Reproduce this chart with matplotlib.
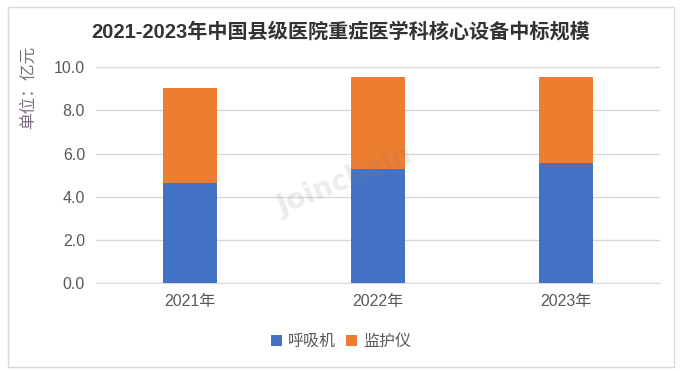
import matplotlib.pyplot as plt
from matplotlib.patches import Rectangle

plt.rcParams['font.family'] = ['Liberation Sans', 'Noto Sans CJK SC', 'DejaVu Sans']

years = ['2021年', '2022年', '2023年']
huxiji = [4.65, 5.28, 5.56]      # 呼吸机
jianhuyi = [4.39, 4.27, 3.99]    # 监护仪
blue = '#4472c4'
orange = '#ed7d31'

fig = plt.figure(figsize=(6.82, 3.71), dpi=100)
fig.patches.append(Rectangle((0.011, 0.011), 0.978, 0.97, transform=fig.transFigure,
                             fill=False, edgecolor='#d9d9d9', linewidth=1))

ax = fig.add_axes([0.141, 0.237, 0.827, 0.582])
x = range(len(years))
ax.bar(x, huxiji, width=0.29, color=blue, label='呼吸机', zorder=3)
ax.bar(x, jianhuyi, width=0.29, bottom=huxiji, color=orange, label='监护仪', zorder=3)

ax.set_xlim(-0.5, 2.5)
ax.set_ylim(0, 10)
ax.set_yticks([0, 2, 4, 6, 8, 10])
ax.set_yticklabels([f'{v:.1f}' for v in [0, 2, 4, 6, 8, 10]])
ax.set_xticks(list(x))
ax.set_xticklabels(years)
ax.grid(axis='y', color='#d9d9d9', linewidth=1, zorder=0)
for s in ['top', 'right', 'left']:
    ax.spines[s].set_visible(False)
ax.spines['bottom'].set_color('#d9d9d9')
ax.tick_params(axis='both', length=0, labelsize=11.5, colors='#595959', pad=8)

# watermark
ax.text(0.82, 4.7, 'Joinchain', fontsize=20, fontweight='bold', color='#808080',
        rotation=22, ha='center', va='center', alpha=0.15, zorder=4, family='DejaVu Sans')

fig.text(0.5, 0.915, '2021-2023年中国县级医院重症医学科核心设备中标规模', ha='center', va='center',
         fontsize=14.5, fontweight='bold', color='#333333')
fig.text(0.041, 0.765, '单位：亿元', rotation=90, ha='center', va='center',
         fontsize=12, color='#7f6f7f')

fig.legend(loc='center', bbox_to_anchor=(0.5, 0.08), ncol=2, frameon=False,
           fontsize=11.5, handlelength=0.7, handleheight=0.7, handletextpad=0.4,
           columnspacing=0.6, labelcolor='#595959')

fig.savefig('out.png', dpi=100)
